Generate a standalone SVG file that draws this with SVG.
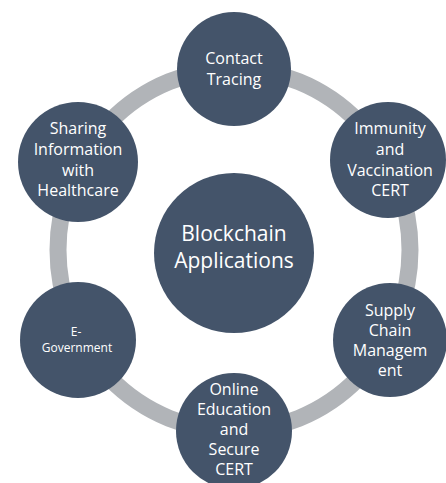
<svg xmlns="http://www.w3.org/2000/svg" width="446" height="483" viewBox="0 0 446 483">
<style>
.node{fill:#44546a}
.t{fill:#ffffff;font-family:"Open Sans","Noto Sans",sans-serif;font-size:16px;text-anchor:middle}
.s{font-size:12px}
.b{font-size:21px}
</style>
<rect width="446" height="483" fill="#ffffff"/>
<g id="connectors">
<ellipse cx="234" cy="250" rx="176" ry="181" fill="none" stroke="#b1b4b8" stroke-width="17"/>
</g>
<g id="center">
<circle class="node" cx="234" cy="253" r="80"/>
<text class="t b" x="234" y="241">Blockchain</text>
<text class="t b" x="234" y="268">Applications</text>
</g>
<g id="contact-tracing">
<circle class="node" cx="234" cy="69" r="57"/>
<text class="t" x="234" y="64">Contact</text>
<text class="t" x="234" y="85">Tracing</text>
</g>
<g id="immunity">
<circle class="node" cx="388" cy="160" r="58"/>
<text class="t" x="390" y="134">Immunity</text>
<text class="t" x="390" y="155">and</text>
<text class="t" x="390" y="176">Vaccination</text>
<text class="t" x="390" y="196">CERT</text>
</g>
<g id="supply-chain">
<circle class="node" cx="390" cy="340" r="57"/>
<text class="t" x="390" y="316">Supply</text>
<text class="t" x="390" y="336">Chain</text>
<text class="t" x="390" y="356">Managem</text>
<text class="t" x="390" y="376">ent</text>
</g>
<g id="online-education">
<circle class="node" cx="234" cy="431" r="58"/>
<text class="t" x="234" y="395">Online</text>
<text class="t" x="234" y="415">Education</text>
<text class="t" x="234" y="435">and</text>
<text class="t" x="234" y="455">Secure</text>
<text class="t" x="234" y="475">CERT</text>
</g>
<g id="e-government">
<circle class="node" cx="78" cy="340" r="58"/>
<text class="t s" x="76" y="336">E-</text>
<text class="t s" x="77" y="352">Government</text>
</g>
<g id="sharing">
<circle class="node" cx="78" cy="162" r="60"/>
<text class="t" x="78" y="134">Sharing</text>
<text class="t" x="78" y="155">Information</text>
<text class="t" x="78" y="176">with</text>
<text class="t" x="78" y="196">Healthcare</text>
</g>
</svg>
